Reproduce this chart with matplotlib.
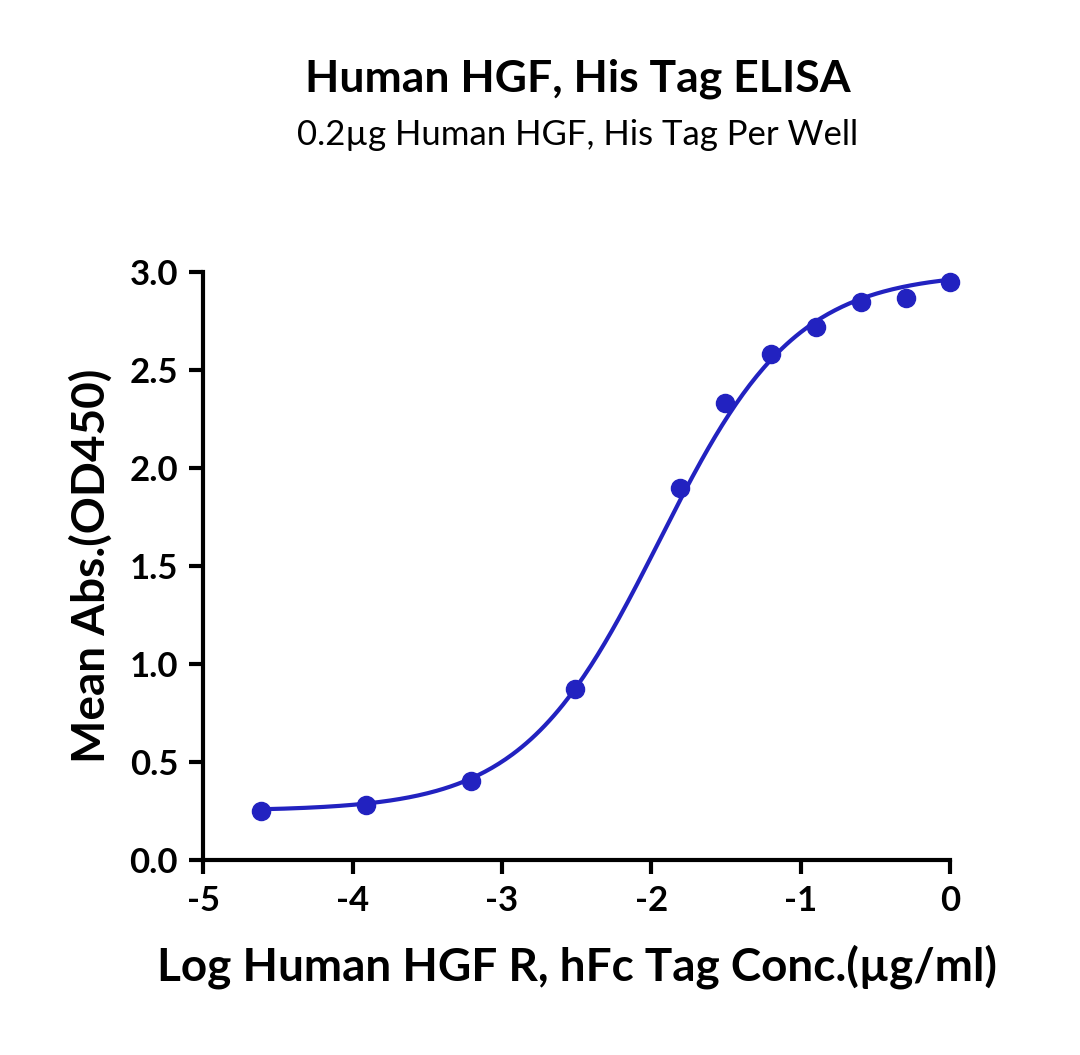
import numpy as np
import matplotlib
matplotlib.use('Agg')
import matplotlib.pyplot as plt

plt.rcParams['font.family'] = ['Lato', 'DejaVu Sans']

# measured points
logConc = [-4.61, -3.91, -3.21, -2.51, -1.81, -1.51, -1.20, -0.90, -0.60, -0.30, 0.0]
meanAbs = [0.25, 0.28, 0.40, 0.87, 1.90, 2.33, 2.58, 2.72, 2.85, 2.87, 2.95]

# 4PL fit parameters
bottom, top, logEC50, hill = 0.25, 3.0, -1.95, 0.95

color = '#2222c0'

fig = plt.figure(figsize=(10.8, 10.55), dpi=100)
ax = fig.add_axes([0.188, 0.185, 0.692, 0.557])

xs = np.linspace(min(logConc), max(logConc), 300)
ys = bottom + (top - bottom) / (1 + 10 ** ((logEC50 - xs) * hill))
ax.plot(xs, ys, color=color, lw=3, clip_on=False)
ax.scatter(logConc, meanAbs, s=170, color=color, zorder=3, clip_on=False)

ax.set_xlim(-5, 0)
ax.set_ylim(0, 3)
ax.set_xticks([-5, -4, -3, -2, -1, 0])
ax.set_xticklabels(['-5', '-4', '-3', '-2', '-1', '0'])
ax.set_yticks([0, 0.5, 1, 1.5, 2, 2.5, 3])
ax.set_yticklabels(['0.0', '0.5', '1.0', '1.5', '2.0', '2.5', '3.0'])
for s in ['top', 'right']:
    ax.spines[s].set_visible(False)
for s in ['left', 'bottom']:
    ax.spines[s].set_linewidth(3)
ax.tick_params(width=3, length=10, labelsize=25, direction='out', pad=8)
for lab in ax.get_xticklabels() + ax.get_yticklabels():
    lab.set_fontweight('bold')

ax.set_xlabel('Log Human HGF R, hFc Tag Conc.(µg/ml)', fontsize=33, fontweight='bold', labelpad=20)
ax.set_ylabel('Mean Abs.(OD450)', fontsize=33, fontweight='bold', labelpad=12)

fig.text(0.535, 0.925, 'Human HGF, His Tag ELISA', ha='center', va='center', fontsize=32, fontweight='bold')
fig.text(0.535, 0.872, '0.2µg Human HGF, His Tag Per Well', ha='center', va='center', fontsize=25)

fig.savefig('out.png', dpi=100)
